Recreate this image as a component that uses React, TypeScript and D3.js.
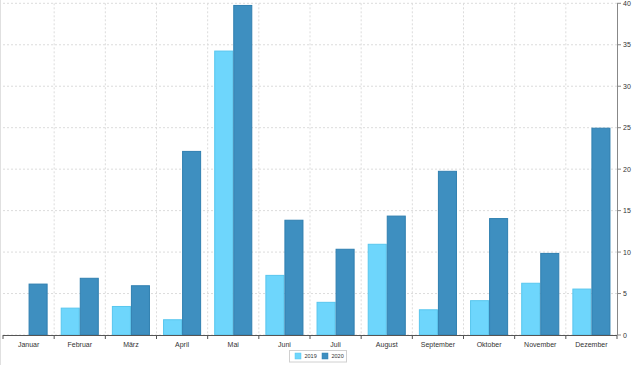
import React from "react";
import * as d3 from "d3";

const months = ["Januar","Februar","März","April","Mai","Juni","Juli","August","September","Oktober","November","Dezember"];
const seriesNames = ["2019","2020"];
const values2019 = [0, 3.3, 3.5, 1.9, 34.3, 7.25, 4.0, 11.0, 3.1, 4.2, 6.3, 5.6];
const values2020 = [6.2, 6.9, 6.0, 22.2, 39.8, 13.9, 10.4, 14.4, 19.8, 14.1, 9.9, 25.0];
const yTicks = [0,5,10,15,20,25,30,35,40];
const colors = ["#6ed6fc", "#3e8fc0"];
const strokes = ["#58c6ee", "#2f7fb0"];

export default function App() {
  const W = 633, H = 365;
  const left = 3, right = 617, top = 3.3, bottom = 335;
  const x0 = d3.scaleBand<string>().domain(months).range([left, right]).paddingInner(0).paddingOuter(0);
  const bw = x0.bandwidth();
  const x1 = d3.scaleBand<string>().domain(seriesNames).range([0, bw]).paddingInner(0).paddingOuter(0.344);
  const y = d3.scaleLinear().domain([0, 40]).range([bottom, top]);
  const data = [values2019, values2020];
  const font = "'Liberation Sans', Arial, sans-serif";
  const boundaries = months.map((m) => x0(m) as number).concat([right]);
  return (
    <svg width={W} height={H} style={{ position: "absolute", left: 0, top: 0 }}>
      <rect x={0} y={0} width={W} height={H} fill="#fff" />
      <line x1={0.5} y1={0} x2={0.5} y2={H} stroke="#e0e0e0" />
      {/* grid */}
      {yTicks.map((t) => (
        <line key={"gy" + t} x1={left} x2={right} y1={y(t)} y2={y(t)} stroke="#dcdcdc" strokeDasharray="2,2" strokeWidth={1} />
      ))}
      {boundaries.slice(1, -1).map((b, i) => (
        <line key={"gx" + i} x1={b} x2={b} y1={top} y2={bottom} stroke="#dcdcdc" strokeDasharray="2,2" strokeWidth={1} />
      ))}
      {/* bars */}
      {months.map((m, i) => (
        <g key={m} transform={`translate(${x0(m)},0)`}>
          {seriesNames.map((s, j) => {
            const v = data[j][i];
            if (!v) return null;
            return (
              <rect key={s} x={(x1(s) as number) + 0.5} y={y(v) + 0.5} width={x1.bandwidth() - 1} height={Math.max(0, bottom - y(v) - 0.5)}
                fill={colors[j]} stroke={strokes[j]} strokeWidth={1} />
            );
          })}
        </g>
      ))}
      {/* x axis */}
      <line x1={left} x2={right} y1={bottom + 0.5} y2={bottom + 0.5} stroke="#555" strokeWidth={1} />
      {boundaries.map((b, i) => (
        <line key={"xt" + i} x1={b} x2={b} y1={bottom} y2={bottom + 4} stroke="#555" />
      ))}
      {months.map((m) => (
        <text key={"xl" + m} x={(x0(m) as number) + bw / 2} y={347} textAnchor="middle" fontFamily={font} fontSize={7} fill="#333">{m}</text>
      ))}
      {/* y axis */}
      <line x1={right + 0.5} x2={right + 0.5} y1={top} y2={bottom} stroke="#888" strokeWidth={1} />
      {yTicks.map((t) => (
        <g key={"yt" + t}>
          <line x1={right} x2={right + 4} y1={y(t)} y2={y(t)} stroke="#888" />
          <text x={623} y={y(t) + 2.5} fontFamily={font} fontSize={7} fill="#333">{t}</text>
        </g>
      ))}
      {/* legend */}
      <rect x={289.5} y={350.5} width={57} height={11.5} fill="#fff" stroke="#d0d0d0" />
      {seriesNames.map((s, j) => (
        <g key={"lg" + s} transform={`translate(${295 + j * 27},353)`}>
          <rect x={0} y={0} width={6} height={6} fill={colors[j]} stroke={strokes[j]} strokeWidth={0.5} />
          <text x={9.5} y={5.3} fontFamily={font} fontSize={5.5} fill="#333">{s}</text>
        </g>
      ))}
    </svg>
  );
}
